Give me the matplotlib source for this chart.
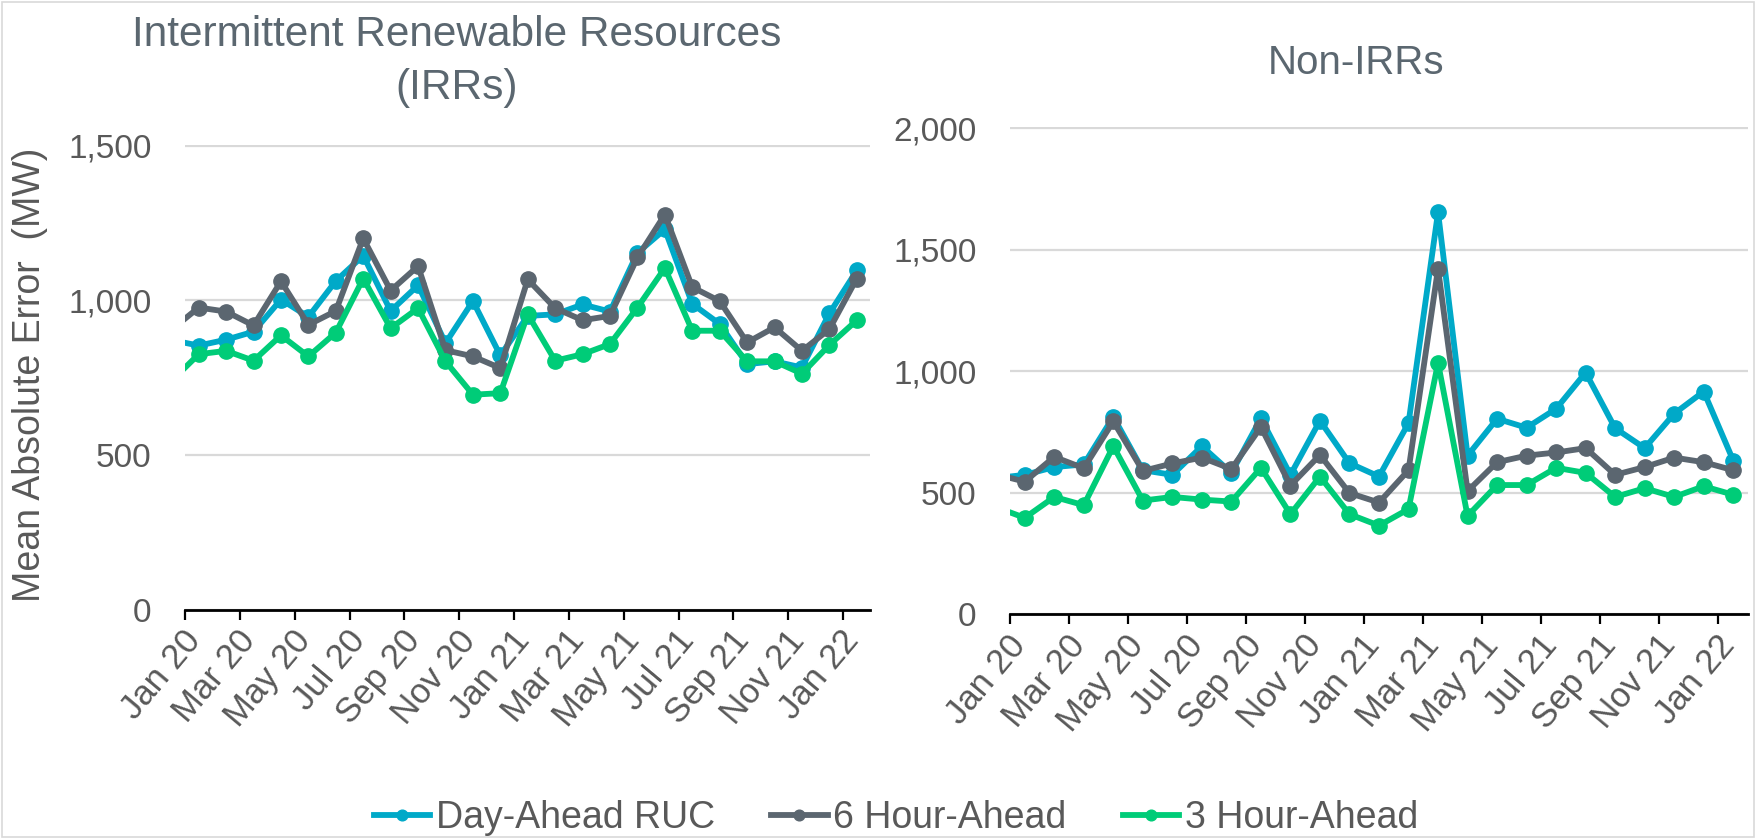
import numpy as np
import matplotlib
matplotlib.use("Agg")
import matplotlib.pyplot as plt
from matplotlib.transforms import ScaledTranslation
from matplotlib.patches import Rectangle

plt.rcParams['font.family'] = ['Liberation Sans', 'DejaVu Sans']

# months Dec 19 .. Jan 22 (Dec 19 sits just left of the axis and only shows as a line stub)
months = ['Dec 19', 'Jan 20', 'Feb 20', 'Mar 20', 'Apr 20', 'May 20', 'Jun 20', 'Jul 20',
          'Aug 20', 'Sep 20', 'Oct 20', 'Nov 20', 'Dec 20', 'Jan 21', 'Feb 21', 'Mar 21',
          'Apr 21', 'May 21', 'Jun 21', 'Jul 21', 'Aug 21', 'Sep 21', 'Oct 21', 'Nov 21',
          'Dec 21', 'Jan 22']
tick_labels = ['Jan 20', 'Mar 20', 'May 20', 'Jul 20', 'Sep 20', 'Nov 20', 'Jan 21',
               'Mar 21', 'May 21', 'Jul 21', 'Sep 21', 'Nov 21', 'Jan 22']

irr_da = [872, 854, 873, 899, 1003, 947, 1063, 1145, 966, 1049, 862, 998, 822,
          950, 955, 987, 964, 1154, 1230, 989, 924, 794, 803, 783, 958, 1097]
irr_6h = [905, 977, 964, 919, 1062, 921, 966, 1201, 1032, 1111, 839, 819, 781,
          1068, 975, 936, 950, 1139, 1278, 1043, 998, 864, 913, 837, 907, 1071]
irr_3h = [739, 826, 837, 805, 887, 819, 896, 1071, 910, 975, 803, 695, 700,
          955, 805, 826, 859, 977, 1105, 902, 902, 803, 803, 763, 856, 936]

non_da = [559, 573, 605, 616, 812, 592, 573, 691, 581, 806, 573, 796, 621,
          566, 786, 1654, 652, 804, 767, 845, 994, 765, 683, 825, 916, 632]
non_6h = [576, 545, 647, 600, 793, 589, 620, 644, 597, 770, 529, 655, 498,
          459, 592, 1422, 506, 625, 652, 665, 683, 573, 605, 644, 625, 592]
non_3h = [441, 396, 482, 448, 691, 467, 482, 471, 463, 602, 411, 566, 411,
          364, 432, 1034, 404, 531, 531, 602, 581, 482, 518, 482, 526, 491]

c_da = '#00A9C8'
c_6h = '#5B6670'
c_3h = '#00CC78'
txt = '#595959'
W, H = 1758, 838

fig = plt.figure(figsize=(W / 100, H / 100), dpi=100)
fig.patches.append(Rectangle((0.001, 0.001), 0.997, 0.997, transform=fig.transFigure,
                             fill=False, edgecolor='#D9D9D9', lw=1.2))

ax1 = fig.add_axes([185 / W, 1 - 609.5 / H, 685.5 / W, 464.5 / H])
ax2 = fig.add_axes([1010 / W, 1 - 614 / H, 738 / W, 486.7 / H])

x = np.arange(len(months)) - 0.5  # mid-month positions, Jan 20 at 0.5


def draw(ax, da, h6, h3, ymax):
    kw = dict(lw=4.2, marker='o', ms=11)
    ax.plot(x, da, color=c_da, label='Day-Ahead RUC', **kw)
    ax.plot(x, h6, color=c_6h, label='6 Hour-Ahead', **kw)
    ax.plot(x, h3, color=c_3h, label='3 Hour-Ahead', **kw)
    ax.set_xlim(0, 25)
    ax.set_ylim(0, ymax * 1.002)
    ax.set_yticks(np.arange(0, ymax + 1, 500))
    ax.yaxis.set_major_formatter(matplotlib.ticker.FuncFormatter(lambda v, p: f'{v:,.0f}'))
    ax.grid(axis='y', color='#D9D9D9', lw=1.6)
    ax.set_axisbelow(True)
    for s in ['top', 'right', 'left']:
        ax.spines[s].set_visible(False)
    ax.spines['bottom'].set_linewidth(2)
    ax.spines['bottom'].set_color('black')
    ax.set_xticks(np.arange(0, 25, 2))
    ax.set_xticklabels(tick_labels, rotation=50, ha='right', va='center',
                       rotation_mode='anchor')
    ax.tick_params(axis='x', direction='out', length=7.5, width=1.6, color='black',
                   pad=11, labelsize=25, labelcolor=txt)
    ax.tick_params(axis='y', length=0, pad=24, labelsize=24, labelcolor=txt)
    off = ScaledTranslation(0.10, 0, fig.dpi_scale_trans)
    for lab in ax.get_xticklabels():
        lab.set_transform(lab.get_transform() + off)


draw(ax1, irr_da, irr_6h, irr_3h, 1500)
draw(ax2, non_da, non_6h, non_3h, 2000)

title_c = '#5B6770'
fig.text(457 / W, 1 - 35 / H, 'Intermittent Renewable Resources', ha='center', va='center',
         fontsize=30.5, color=title_c)
fig.text(457 / W, 1 - 88 / H, '(IRRs)', ha='center', va='center', fontsize=30.5, color=title_c)
fig.text(1356 / W, 1 - 63 / H, 'Non-IRRs', ha='center', va='center', fontsize=29, color=title_c)

fig.text(30 / W, 1 - 375 / H, 'Mean Absolute Error  (MW)', rotation=90, ha='center',
         va='center', fontsize=27, color=txt)

h, l = ax1.get_legend_handles_labels()
fig.legend(h, l, loc='center', bbox_to_anchor=(896 / W, 1 - 818 / H), ncol=3,
           frameon=False, prop={'size': 27},
           labelcolor=txt, handlelength=1.5, handletextpad=0.15, columnspacing=1.5,
           markerscale=0.7)

fig.savefig('out.png', dpi=100)
